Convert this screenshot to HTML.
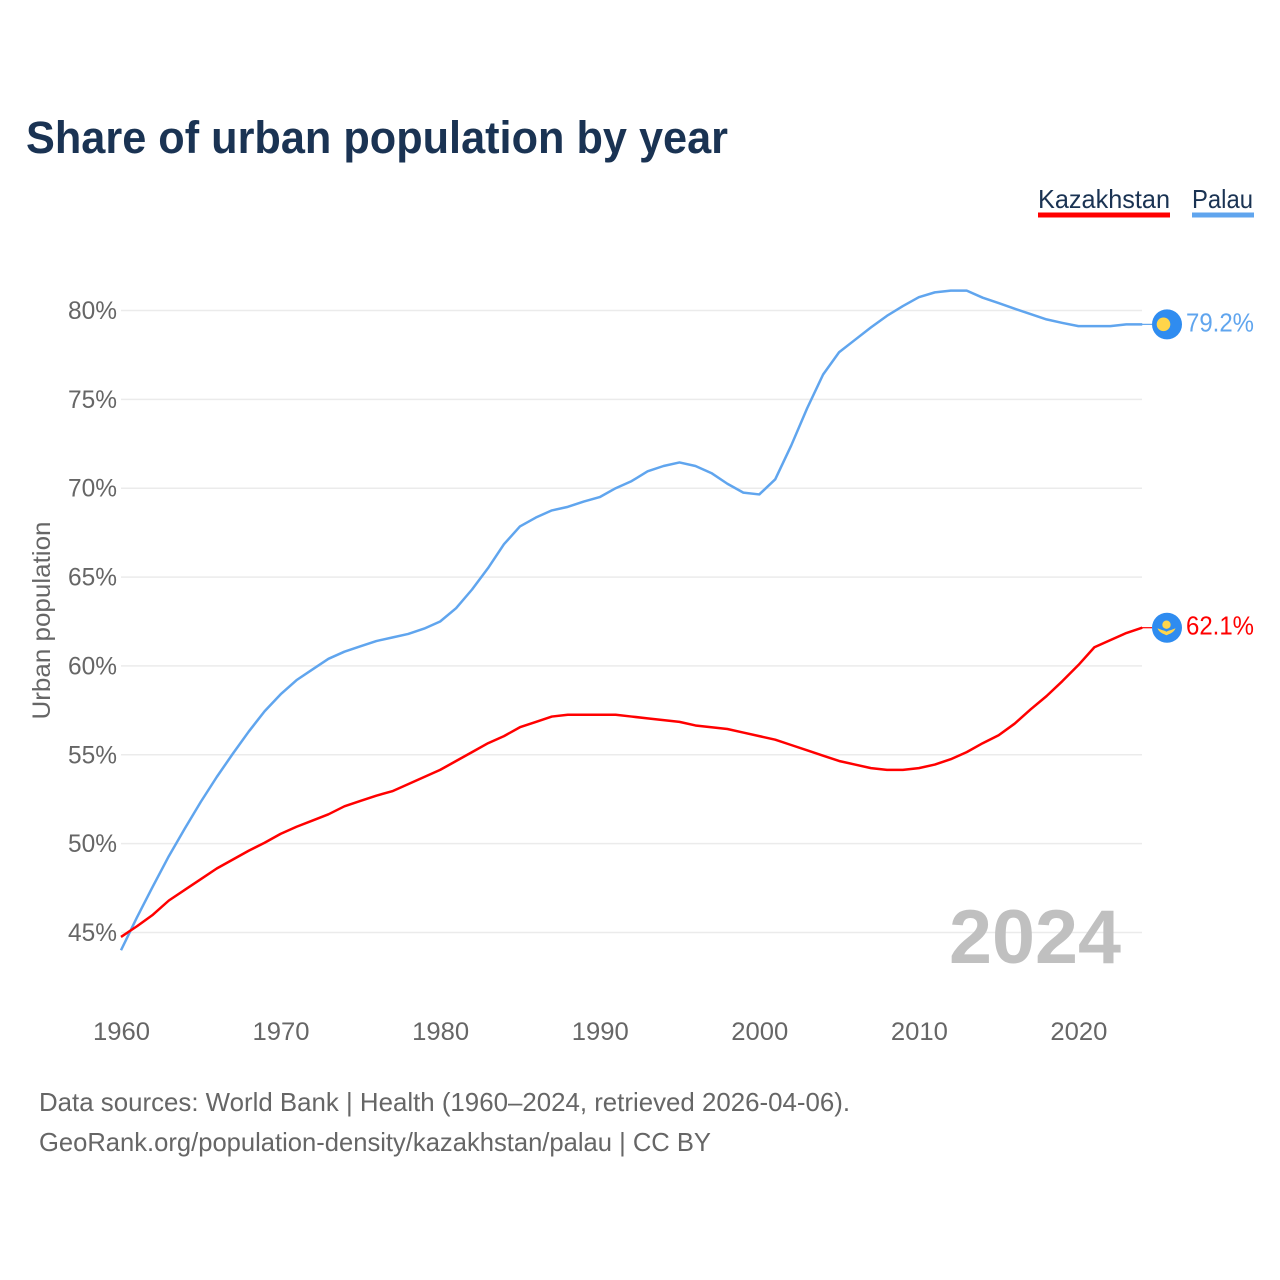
<!DOCTYPE html>
<html lang="en">
<head>
<meta charset="utf-8">
<title>Share of urban population by year</title>
<style>
html,body{margin:0;padding:0;background:#fff;width:1280px;height:1280px;overflow:hidden}
svg{display:block}
text{font-family:"Liberation Sans",sans-serif}
</style>
</head>
<body>
<svg id="chart" width="1280" height="1280" viewBox="0 0 1280 1280" xmlns="http://www.w3.org/2000/svg">
  <rect x="0" y="0" width="1280" height="1280" fill="#fff"/>
  <text x="26" y="153" font-size="45" font-weight="700" fill="#1a3353" textLength="702" lengthAdjust="spacingAndGlyphs">Share of urban population by year</text>

  <g>
    <text x="1038" y="208" font-size="26" fill="#1a3353" textLength="132" lengthAdjust="spacingAndGlyphs">Kazakhstan</text>
    <rect x="1038" y="212.5" width="132" height="5" fill="#ff0000"/>
  </g>
  <g>
    <text x="1192" y="208" font-size="26" fill="#1a3353" textLength="61" lengthAdjust="spacingAndGlyphs">Palau</text>
    <rect x="1192" y="212.5" width="62" height="5" fill="#60a5ee"/>
  </g>

  <g id="grid"></g>
  <g id="yLabels"></g>
  <g id="xLabels"></g>

  <text transform="translate(50,620.5) rotate(-90)" text-anchor="middle" font-size="25" fill="#666" textLength="198" lengthAdjust="spacingAndGlyphs">Urban population</text>
  <text x="949" y="963" font-size="76" font-weight="700" fill="#c0c0c0" textLength="172" lengthAdjust="spacingAndGlyphs">2024</text>

  <g id="series"></g>
  <g id="ends"></g>

  <text x="39" y="1111" font-size="26" fill="#666" textLength="811" lengthAdjust="spacingAndGlyphs">Data sources: World Bank | Health (1960–2024, retrieved 2026-04-06).</text>
  <text x="39" y="1151" font-size="26" fill="#666" textLength="672" lengthAdjust="spacingAndGlyphs">GeoRank.org/population-density/kazakhstan/palau | CC BY</text>
</svg>
<script>
const years = [1960,1961,1962,1963,1964,1965,1966,1967,1968,1969,1970,1971,1972,1973,1974,1975,1976,1977,1978,1979,1980,1981,1982,1983,1984,1985,1986,1987,1988,1989,1990,1991,1992,1993,1994,1995,1996,1997,1998,1999,2000,2001,2002,2003,2004,2005,2006,2007,2008,2009,2010,2011,2012,2013,2014,2015,2016,2017,2018,2019,2020,2021,2022,2023,2024];
const kazakhstanValues = [44.75,45.35,46.0,46.8,47.4,48.0,48.6,49.1,49.6,50.05,50.55,50.95,51.3,51.65,52.1,52.4,52.7,52.95,53.35,53.75,54.15,54.65,55.15,55.65,56.05,56.55,56.85,57.15,57.25,57.25,57.25,57.25,57.15,57.05,56.95,56.85,56.65,56.55,56.45,56.25,56.05,55.85,55.55,55.25,54.95,54.65,54.45,54.25,54.15,54.15,54.25,54.45,54.75,55.15,55.65,56.1,56.75,57.55,58.3,59.15,60.05,61.05,61.45,61.85,62.15];
const palauValues = [44.0,45.85,47.6,49.3,50.85,52.35,53.75,55.05,56.3,57.45,58.4,59.2,59.8,60.4,60.8,61.1,61.4,61.6,61.8,62.1,62.5,63.25,64.3,65.5,66.85,67.85,68.35,68.75,68.95,69.25,69.5,70.0,70.4,70.95,71.25,71.45,71.25,70.85,70.25,69.75,69.65,70.5,72.4,74.5,76.4,77.65,78.35,79.05,79.7,80.25,80.75,81.02,81.12,81.12,80.72,80.42,80.1,79.8,79.5,79.3,79.12,79.12,79.12,79.22,79.22];
const yTickValues = [45,50,55,60,65,70,75,80];
const yTickLabels = ["45%","50%","55%","60%","65%","70%","75%","80%"];
const xTickValues = [1960,1970,1980,1990,2000,2010,2020];
const xTickLabels = ["1960","1970","1980","1990","2000","2010","2020"];

const NS = "http://www.w3.org/2000/svg";
function xScale(year){ return 121 + (year - 1960) * 15.957; }
function yScale(v){ return 310.5 + (80 - v) * 17.771; }
function make(tag, parent){
  const el = document.createElementNS(NS, tag);
  document.getElementById(parent).appendChild(el);
  return el;
}
function setAll(el, attrs){ for (const k in attrs) el.setAttribute(k, attrs[k]); }

yTickValues.forEach(function(v, i){
  const line = make("line", "grid");
  
  
  setAll(line, {x1: 121, x2: 1142, y1: yScale(v), y2: yScale(v), stroke: "#ebebeb", "stroke-width": 1.5});
  const t = make("text", "yLabels");
  
  
  setAll(t, {x: 68, y: yScale(v) + 8.5, "font-size": 25, fill: "#666", textLength: 49, lengthAdjust: "spacingAndGlyphs"});
  t.textContent = yTickLabels[i];
});

xTickValues.forEach(function(yr, i){
  const t = make("text", "xLabels");
  
  
  setAll(t, {x: xScale(yr) - 28, y: 1040, "font-size": 25, fill: "#666", textLength: 57, lengthAdjust: "spacingAndGlyphs"});
  t.textContent = xTickLabels[i];
});

function pathFor(values){
  return values.map(function(v, i){
    return (i ? "L" : "M") + xScale(years[i]).toFixed(2) + " " + yScale(v).toFixed(2);
  }).join("");
}

const palauLine = make("path", "series");


setAll(palauLine, {d: pathFor(palauValues), fill: "none", stroke: "#60a5ee", "stroke-width": 2.5, "stroke-linejoin": "round"});

const kazakhstanLine = make("path", "series");


setAll(kazakhstanLine, {d: pathFor(kazakhstanValues), fill: "none", stroke: "#ff0000", "stroke-width": 2.5, "stroke-linejoin": "round"});

function endMarker(values, color, label){
  const last = values[values.length - 1];
  const y = yScale(last);
  const lead = make("line", "ends");
  
  
  setAll(lead, {x1: 1142, x2: 1152, y1: y, y2: y, stroke: color, "stroke-width": 1.2});
  const disc = make("circle", "ends");
  
  
  setAll(disc, {cx: 1167, cy: y, r: 15, fill: "#2f8cf0"});
  const t = make("text", "ends");
  
  
  setAll(t, {x: 1186, y: y + 7, "font-size": 25.5, fill: color, textLength: 68, lengthAdjust: "spacingAndGlyphs"});
  t.textContent = label;
  return y;
}

const palauEndY = endMarker(palauValues, "#60a5ee", "79.2%");
const palauSun = make("circle", "ends");


setAll(palauSun, {cx: 1163.5, cy: palauEndY, r: 6.8, fill: "#ffd54a"});

const kazEndY = endMarker(kazakhstanValues, "#ff0000", "62.1%");
const kazSun = make("circle", "ends");


setAll(kazSun, {cx: 1166.5, cy: kazEndY - 3, r: 4.2, fill: "#ffd54a"});
const kazWings = make("path", "ends");


setAll(kazWings, {d: "M-9 0.5C-5 2.5-2 2.5 0 4C2 2.5 5 2.5 9 0.5C7.5 5 3 6 0 7.5C-3 6-7.5 5-9 0.5Z", transform: "translate(1166.5," + kazEndY + ")", fill: "#ffd54a"});
</script>
</body>
</html>
